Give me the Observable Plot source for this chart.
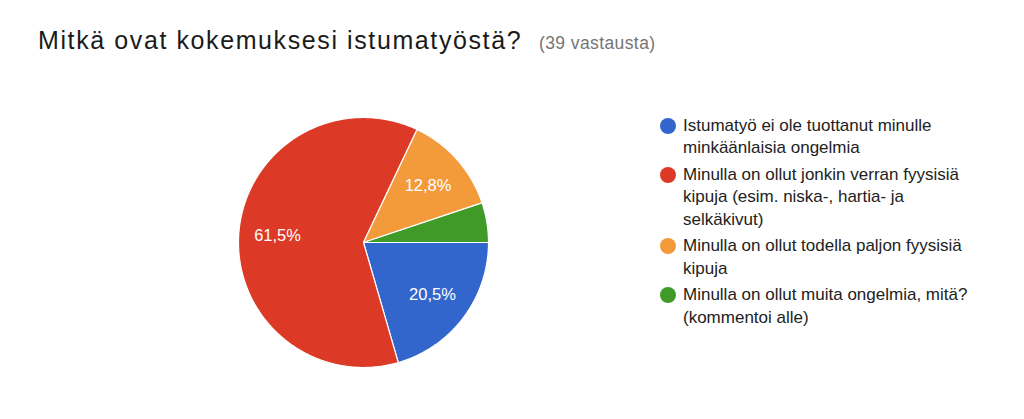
<!DOCTYPE html>
<html>
<head>
<meta charset="utf-8">
<script src="https://cdn.jsdelivr.net/npm/d3@7"></script>
<script src="https://cdn.jsdelivr.net/npm/@observablehq/plot@0.6"></script>
<style>
  html, body { margin: 0; padding: 0; background: #fff; }
  body { width: 1024px; height: 419px; position: relative; overflow: hidden; font-family: "Liberation Sans", Arial, sans-serif; }
  #title { position: absolute; left: 38px; top: 27.5px; font-size: 25px; line-height: 1; letter-spacing: 1.6px; color: #1a1a1a; white-space: nowrap; }
  #subtitle { position: absolute; left: 539px; top: 35px; font-size: 17.5px; line-height: 1; letter-spacing: 0.4px; color: #757575; white-space: nowrap; }
  #chart { position: absolute; left: 0; top: 0; }
  #legend { position: absolute; left: 660px; top: 114.5px; width: 318px; font-size: 17px; color: #222; }
  .item { display: flex; align-items: flex-start; margin-bottom: 4px; line-height: 22.5px; }
  .dot { width: 16px; height: 16px; border-radius: 50%; flex: none; margin-top: 3.4px; margin-right: 7px; }
</style>
</head>
<body>
<div id="chart"></div>
<div id="title">Mitkä ovat kokemuksesi istumatyöstä?</div>
<div id="subtitle">(39 vastausta)</div>
<div id="legend"></div>
<script>
const categories = [
  "Istumatyö ei ole tuottanut minulle minkäänlaisia ongelmia",
  "Minulla on ollut jonkin verran fyysisiä kipuja (esim. niska-, hartia- ja selkäkivut)",
  "Minulla on ollut todella paljon fyysisiä kipuja",
  "Minulla on ollut muita ongelmia, mitä? (kommentoi alle)"
];
const counts = [8, 24, 5, 2];
const colors = ["#3366cc", "#dc3a26", "#f39a3b", "#3f9a27"];
const totalResponses = 39;

const pie = d3.pie().sort(null).startAngle(Math.PI / 2).endAngle(Math.PI / 2 + 2 * Math.PI);
const arcs = pie(counts).map((a, i) => ({...a, category: categories[i], share: counts[i] / totalResponses}));

// slice outlines built from the pie angles
const slicePts = [];
arcs.forEach(a => {
  const n = Math.max(2, Math.ceil((a.endAngle - a.startAngle) / 0.01));
  slicePts.push({category: a.category, x: 0, y: 0});
  for (let k = 0; k <= n; k++) {
    const t = a.startAngle + (a.endAngle - a.startAngle) * k / n;
    slicePts.push({category: a.category, x: Math.sin(t), y: Math.cos(t)});
  }
  slicePts.push({category: a.category, x: 0, y: 0});
});

const labelR = 0.69;
const labels = arcs.filter(a => a.share >= 0.1).map(a => {
  const m = (a.startAngle + a.endAngle) / 2;
  return {x: labelR * Math.sin(m), y: labelR * Math.cos(m), text: (a.share * 100).toFixed(1).replace(".", ",") + "%"};
});

const chart = Plot.plot({
  width: 1024,
  height: 419,
  margin: 0,
  x: {domain: [-1, 1], range: [238, 488], axis: null},
  y: {domain: [-1, 1], range: [367, 117], axis: null},
  color: {domain: categories, range: colors},
  style: {background: "transparent", fontFamily: "Liberation Sans, Arial, sans-serif"},
  marks: [
    Plot.line(slicePts, {x: "x", y: "y", z: "category", fill: "category", stroke: "white", strokeWidth: 1.2, strokeLinejoin: "round"}),
    Plot.text(labels, {x: "x", y: "y", text: "text", fill: "white", fontSize: 16.5})
  ]
});
document.getElementById("chart").appendChild(chart);

const legend = document.getElementById("legend");
categories.forEach((c, i) => {
  const row = document.createElement("div");
  row.className = "item";
  const dot = document.createElement("div");
  dot.className = "dot";
  dot.style.background = colors[i];
  const txt = document.createElement("div");
  txt.textContent = c;
  row.appendChild(dot);
  row.appendChild(txt);
  legend.appendChild(row);
});
</script>
</body>
</html>
